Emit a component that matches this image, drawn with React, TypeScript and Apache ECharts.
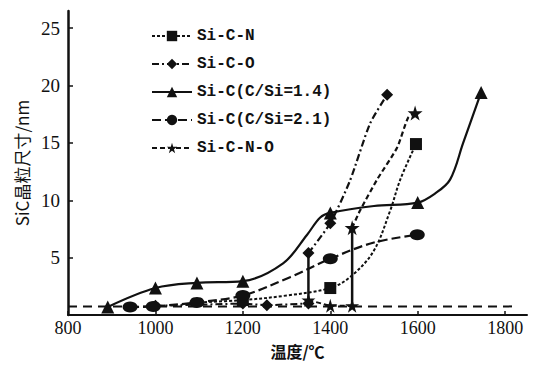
import React, { useEffect, useRef } from "react";
import * as echarts from "echarts";

// [temperature, size, hasMarker]
const siCN: number[][] = [
  [1100, 1.1, 0], [1200, 1.3, 1], [1300, 1.7, 0], [1400, 2.35, 1], [1445, 3.3, 0],
  [1498, 5.5, 0], [1537, 9.1, 0], [1560, 11.8, 0], [1596, 14.9, 1],
];
const siCO: number[][] = [
  [1350, 5.4, 1], [1400, 8.0, 1], [1445, 11.7, 0], [1491, 16.7, 0], [1530, 19.2, 1],
];
const siCOLow: number[][] = [
  [1000, 0.8, 1], [1100, 0.9, 0], [1200, 1.0, 1], [1255, 0.85, 1], [1350, 1.0, 1],
];
const siC14: number[][] = [
  [891, 0.7, 1], [1000, 2.35, 1], [1095, 2.8, 1], [1200, 2.95, 1], [1292, 4.5, 0],
  [1347, 7.0, 0], [1377, 8.5, 0], [1400, 8.9, 1], [1500, 9.5, 0], [1600, 9.8, 1],
  [1640, 10.6, 0], [1674, 11.8, 0], [1704, 15.0, 0], [1745, 19.4, 1],
];
const siC21: number[][] = [
  [942, 0.7, 1], [995, 0.75, 1], [1095, 1.1, 1], [1200, 1.7, 1], [1308, 3.3, 0],
  [1400, 4.9, 1], [1498, 6.3, 0], [1599, 7.0, 1],
];
const siCNO: number[][] = [
  [1450, 7.6, 1], [1468, 9.1, 0], [1507, 11.8, 0], [1553, 14.6, 0], [1578, 17.2, 0], [1594, 17.6, 1],
];
const siCNOLow: number[][] = [
  [1350, 1.3, 1], [1400, 0.8, 1], [1450, 0.8, 1],
];
const baseLine: number[][] = [[800, 0.75], [1820, 0.75]];
const jump1350: number[][] = [[1350, 1.0], [1350, 5.4]];
const jump1450: number[][] = [[1450, 0.75], [1450, 7.6]];

const legendNames = ["Si-C-N", "Si-C-O", "Si-C(C/Si=1.4)", "Si-C(C/Si=2.1)", "Si-C-N-O"];
const xTicks = [800, 1000, 1200, 1400, 1600, 1800];
const yTicks = [5, 10, 15, 20, 25];

const STAR = "path://M50,0 L61,35 L98,35 L68,57 L79,91 L50,70 L21,91 L32,57 L2,35 L39,35 Z";
const INK = "#111";

function toData(arr: number[][]) {
  return arr.map((p) => ({ value: [p[0], p[1]], symbol: p[2] ? undefined : "none" }));
}

export default function App() {
  const ref = useRef<HTMLDivElement>(null);
  useEffect(() => {
    if (!ref.current) return;
    const chart = echarts.init(ref.current, undefined, { renderer: "svg" });
    const mk = (name: string, data: number[][], symbol: string, size: any, type: any, width: number, smooth: number | boolean = 0.35) => ({
      name,
      type: "line",
      data: toData(data),
      symbol,
      symbolSize: size,
      smooth,
      showAllSymbol: true,
      itemStyle: { color: INK },
      lineStyle: { color: INK, width, type },
    });
    chart.setOption({
      animation: false,
      backgroundColor: "#fff",
      grid: { left: 68, top: 11, width: 459, height: 304, containLabel: false },
      legend: {
        data: legendNames,
        orient: "vertical",
        left: 146,
        top: 23,
        itemWidth: 40,
        itemHeight: 13,
        itemGap: 12,
        textStyle: { fontFamily: "Liberation Mono", fontSize: 16, color: INK, fontWeight: "bold" },
      },
      xAxis: {
        type: "value",
        min: 800,
        max: 1850,
        interval: 200,
        name: "温度/℃",
        nameLocation: "middle",
        nameGap: 28,
        nameTextStyle: { fontFamily: "Noto Sans CJK SC", fontSize: 16, color: INK, fontWeight: "bold", verticalAlign: "top" },
        axisLine: { lineStyle: { color: INK, width: 2 } },
        axisTick: { inside: true, length: 4, lineStyle: { color: INK, width: 1.5 } },
        axisLabel: {
          showMaxLabel: false,
          margin: 4,
          color: INK,
          fontFamily: "Liberation Serif",
          fontSize: 18,
          formatter: (v: number) => (xTicks.includes(v) ? String(v) : ""),
        },
        splitLine: { show: false },
      },
      yAxis: {
        type: "value",
        min: 0,
        max: 26.5,
        interval: 5,
        name: "SiC晶粒尺寸/nm",
        nameLocation: "middle",
        nameGap: 38,
        nameTextStyle: { fontFamily: "Noto Sans CJK SC", fontSize: 17, color: INK },
        axisLine: { lineStyle: { color: INK, width: 2.5 } },
        axisTick: { inside: true, length: 5, lineStyle: { color: INK, width: 1.5 } },
        axisLabel: {
          showMinLabel: false,
          showMaxLabel: false,
          margin: 8,
          color: INK,
          fontFamily: "Liberation Serif",
          fontSize: 19,
          formatter: (v: number) => (yTicks.includes(v) ? String(v) : ""),
        },
        splitLine: { show: false },
      },
      series: [
        mk("Si-C-N", siCN, "rect", 12, [3, 2], 2),
        mk("Si-C-O", siCO, "diamond", 12, [7, 3, 2, 3], 2.2, 0.2),
        mk("Si-C-O", siCOLow, "diamond", 12, [7, 3, 2, 3], 2, 0),
        mk("Si-C(C/Si=1.4)", siC14, "triangle", 13, "solid", 2.2),
        mk("Si-C(C/Si=2.1)", siC21, "circle", [15, 11], [9, 4], 2.2),
        mk("Si-C-N-O", siCNO, STAR, 15, [5, 3], 2.2, 0.2),
        mk("Si-C-N-O", siCNOLow, STAR, 14, [5, 3], 2, 0),
        {
          type: "line", name: "base", data: baseLine, symbol: "none",
          lineStyle: { color: INK, width: 2, type: [9, 6] },
        },
        {
          type: "line", name: "j1", data: jump1350, symbol: "none",
          lineStyle: { color: INK, width: 2.5, type: "solid" },
        },
        {
          type: "line", name: "j2", data: jump1450, symbol: "none",
          lineStyle: { color: INK, width: 2.5, type: "solid" },
        },
      ],
    });
    return () => chart.dispose();
  }, []);
  return <div ref={ref} style={{ width: 533, height: 365, position: "absolute", left: 0, top: 0 }} />;
}
